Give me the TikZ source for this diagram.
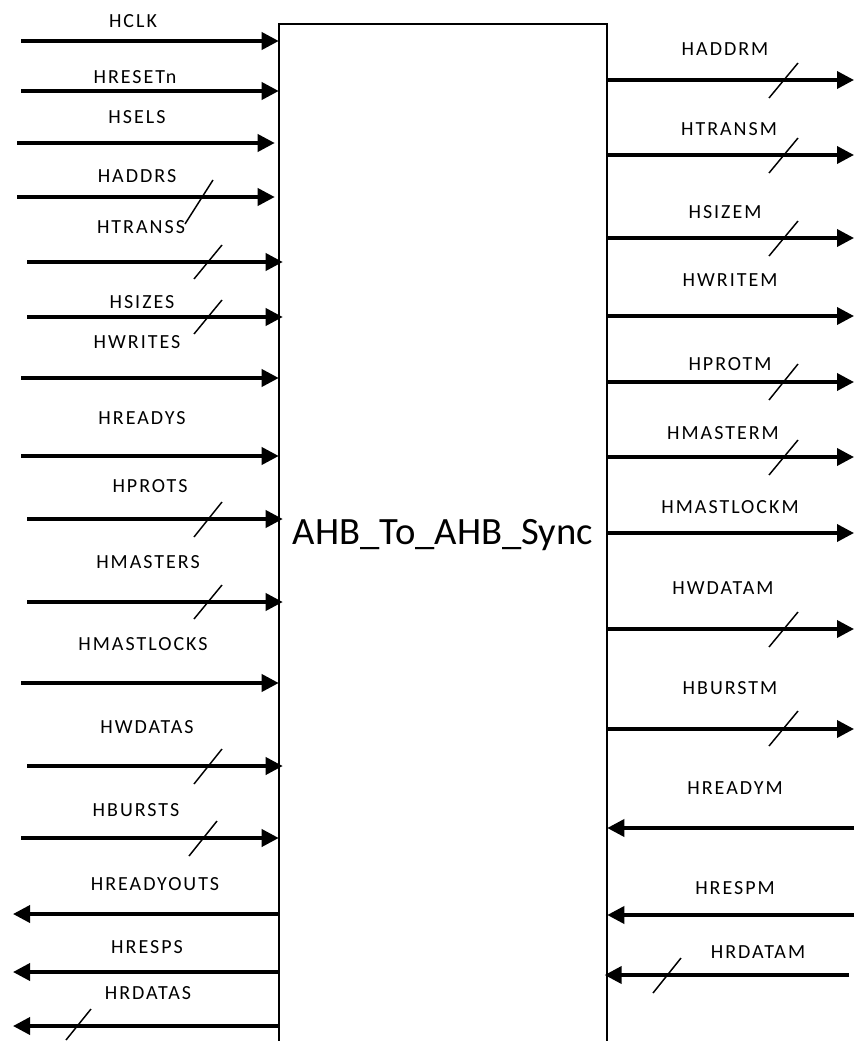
\documentclass[tikz,border=0pt]{standalone}
\usepackage{fontspec}
\setmainfont{Carlito}
\newfontfamily\sigfont[LetterSpace=10]{Carlito}
\usetikzlibrary{arrows.meta}
\tikzset{
  sig/.style={line width=2.7pt,-{Triangle[length=12.75pt,width=12.75pt]}},
  busmark/.style={line width=1.1pt},
  siglbl/.style={font=\sigfont\fontsize{15}{18}\selectfont,inner sep=0pt},
  block/.style={draw=none,minimum width=246pt,minimum height=766.5pt,
    font=\fontsize{29}{35}\selectfont}
}

\begin{document}
\begin{tikzpicture}[x=0.75pt,y=-0.75pt]
        \useasboundingbox (0,0) rectangle (855,1041);

        \node[block] (sync) at (443,535) {AHB\_To\_AHB\_Sync};
        \draw[line width=1.4pt] (sync.south west) -- (sync.north west) -- (sync.north east) -- (sync.south east);

        % slave side, inputs
        \node[siglbl] (l-hclk) at (133,21) {HCLK};
        \coordinate (hclk) at (21,41);
        \draw[sig] (hclk) -- (hclk -| sync.west);

        \node[siglbl] (l-hresetn) at (135,77) {HRESETn};
        \coordinate (hresetn) at (21,91);
        \draw[sig] (hresetn) -- (hresetn -| sync.west);

        \node[siglbl] (l-hsels) at (137,117) {HSELS};
        \coordinate (hsels) at (17,143);
        \draw[sig,shorten >=3pt] (hsels) -- (hsels -| sync.west);

        \node[siglbl] (l-haddrs) at (137,176) {HADDRS};
        \coordinate (haddrs) at (17,197);
        \draw[sig,shorten >=3pt] (haddrs) -- (haddrs -| sync.west);
        \draw[busmark] (185,224) -- (213,180);

        \node[siglbl] (l-htranss) at (141,227) {HTRANSS};
        \coordinate (htranss) at (27,262);
        \draw[sig,shorten >=-3pt] (htranss) -- (htranss -| sync.west);
        \draw[busmark] (194,279) -- (222,245);

        \node[siglbl] (l-hsizes) at (142,302) {HSIZES};
        \coordinate (hsizes) at (27,317);
        \draw[sig,shorten >=-3pt] (hsizes) -- (hsizes -| sync.west);
        \draw[busmark] (194,334) -- (222,300);

        \node[siglbl] (l-hwrites) at (137,342) {HWRITES};
        \coordinate (hwrites) at (21,378);
        \draw[sig] (hwrites) -- (hwrites -| sync.west);

        \node[siglbl] (l-hreadys) at (142,418) {HREADYS};
        \coordinate (hreadys) at (21,456);
        \draw[sig] (hreadys) -- (hreadys -| sync.west);

        \node[siglbl] (l-hprots) at (150,486) {HPROTS};
        \coordinate (hprots) at (27,519);
        \draw[sig,shorten >=-3pt] (hprots) -- (hprots -| sync.west);
        \draw[busmark] (194,537) -- (222,502);

        \node[siglbl] (l-hmasters) at (148,562) {HMASTERS};
        \coordinate (hmasters) at (27,602);
        \draw[sig,shorten >=-3pt] (hmasters) -- (hmasters -| sync.west);
        \draw[busmark] (194,619) -- (222,585);

        \node[siglbl] (l-hmastlocks) at (143,644) {HMASTLOCKS};
        \coordinate (hmastlocks) at (21,683);
        \draw[sig] (hmastlocks) -- (hmastlocks -| sync.west);

        \node[siglbl] (l-hwdatas) at (147,727) {HWDATAS};
        \coordinate (hwdatas) at (27,766);
        \draw[sig,shorten >=-3pt] (hwdatas) -- (hwdatas -| sync.west);
        \draw[busmark] (194,784) -- (222,749);

        \node[siglbl] (l-hbursts) at (136,810) {HBURSTS};
        \coordinate (hbursts) at (21,838);
        \draw[sig] (hbursts) -- (hbursts -| sync.west);
        \draw[busmark] (189,856) -- (217,821);

        % slave side, outputs
        \node[siglbl] (l-hreadyouts) at (155,884) {HREADYOUTS};
        \coordinate (hreadyouts) at (13,914);
        \draw[sig] (hreadyouts -| sync.west) -- (hreadyouts);

        \node[siglbl] (l-hresps) at (147,947) {HRESPS};
        \coordinate (hresps) at (13,972);
        \draw[sig] (hresps -| sync.west) -- (hresps);

        \node[siglbl] (l-hrdatas) at (148,993) {HRDATAS};
        \coordinate (hrdatas) at (13,1026);
        \draw[sig] (hrdatas -| sync.west) -- (hrdatas);
        \draw[busmark] (66,1040) -- (91,1009);

        % master side, outputs
        \node[siglbl] (l-haddrm) at (725,49) {HADDRM};
        \coordinate (haddrm) at (854,80);
        \draw[sig] (haddrm -| sync.east) -- (haddrm);
        \draw[busmark] (769,98) -- (798,63);

        \node[siglbl] (l-htransm) at (729,129) {HTRANSM};
        \coordinate (htransm) at (854,155);
        \draw[sig] (htransm -| sync.east) -- (htransm);
        \draw[busmark] (769,173) -- (798,138);

        \node[siglbl] (l-hsizem) at (725,212) {HSIZEM};
        \coordinate (hsizem) at (854,238);
        \draw[sig] (hsizem -| sync.east) -- (hsizem);
        \draw[busmark] (769,256) -- (798,221);

        \node[siglbl] (l-hwritem) at (730,280) {HWRITEM};
        \coordinate (hwritem) at (854,316);
        \draw[sig] (hwritem -| sync.east) -- (hwritem);

        \node[siglbl] (l-hprotm) at (730,364) {HPROTM};
        \coordinate (hprotm) at (854,382);
        \draw[sig] (hprotm -| sync.east) -- (hprotm);
        \draw[busmark] (769,400) -- (798,364);

        \node[siglbl] (l-hmasterm) at (723,433) {HMASTERM};
        \coordinate (hmasterm) at (854,457);
        \draw[sig] (hmasterm -| sync.east) -- (hmasterm);
        \draw[busmark] (769,475) -- (798,440);

        \node[siglbl] (l-hmastlockm) at (730,507) {HMASTLOCKM};
        \coordinate (hmastlockm) at (854,533);
        \draw[sig] (hmastlockm -| sync.east) -- (hmastlockm);

        \node[siglbl] (l-hwdatam) at (723,588) {HWDATAM};
        \coordinate (hwdatam) at (854,629);
        \draw[sig] (hwdatam -| sync.east) -- (hwdatam);
        \draw[busmark] (769,647) -- (798,612);

        \node[siglbl] (l-hburstm) at (730,688) {HBURSTM};
        \coordinate (hburstm) at (854,729);
        \draw[sig] (hburstm -| sync.east) -- (hburstm);
        \draw[busmark] (769,746) -- (798,711);

        % master side, inputs
        \node[siglbl] (l-hreadym) at (735,788) {HREADYM};
        \coordinate (hreadym) at (854,828);
        \draw[sig] (hreadym) -- (hreadym -| sync.east);

        \node[siglbl] (l-hrespm) at (735,888) {HRESPM};
        \coordinate (hrespm) at (854,915);
        \draw[sig] (hrespm) -- (hrespm -| sync.east);

        \node[siglbl] (l-hrdatam) at (758,952) {HRDATAM};
        \coordinate (hrdatam) at (849,975);
        \draw[sig,shorten >=-2pt] (hrdatam) -- (hrdatam -| sync.east);
        \draw[busmark] (653,993) -- (681,958);
\end{tikzpicture}
\end{document}
